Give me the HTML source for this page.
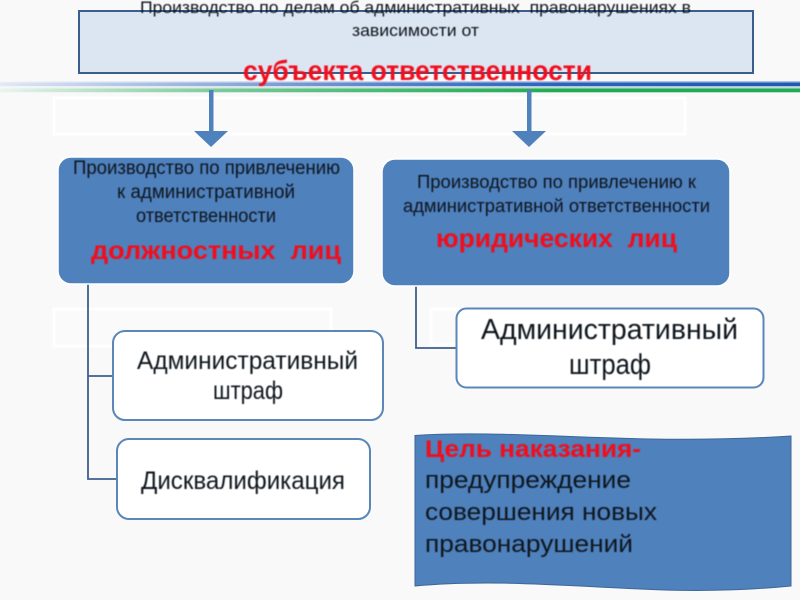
<!DOCTYPE html>
<html lang="ru">
<head>
<meta charset="utf-8">
<style>
html,body{margin:0;padding:0;background:#f9f9fa}
svg{display:block}
text{font-family:"Liberation Sans","DejaVu Sans",sans-serif;text-anchor:start}
.b{fill:#10151f}
.r{fill:#f10d1c;font-weight:bold}
</style>
</head>
<body>
<svg width="800" height="600" viewBox="0 0 800 600" xmlns="http://www.w3.org/2000/svg">
<defs>
<linearGradient id="gb" x1="0" x2="1" y1="0" y2="0">
<stop offset="0" stop-color="#2a62c0" stop-opacity="0.08"/>
<stop offset="0.3" stop-color="#2a62c0" stop-opacity="0.45"/>
<stop offset="0.7" stop-color="#2a62c0" stop-opacity="1"/>
<stop offset="1" stop-color="#2058b8"/>
</linearGradient>
<linearGradient id="gg" x1="0" x2="1" y1="0" y2="0">
<stop offset="0" stop-color="#22aa55" stop-opacity="0.05"/>
<stop offset="0.3" stop-color="#22aa55" stop-opacity="0.55"/>
<stop offset="0.7" stop-color="#22aa55" stop-opacity="1"/>
<stop offset="1" stop-color="#22aa55"/>
</linearGradient>
<filter id="s" x="-5%" y="-5%" width="110%" height="110%"><feGaussianBlur stdDeviation="0.4"/></filter>
</defs>
<rect width="800" height="600" fill="#f9f9fa"/>

<!-- bands -->
<rect x="0" y="81" width="800" height="6" fill="url(#gb)" opacity="0.35"/>
<rect x="0" y="82.5" width="800" height="3.5" fill="url(#gb)"/>
<rect x="0" y="87" width="800" height="6" fill="url(#gg)" opacity="0.3"/>
<rect x="0" y="88.5" width="800" height="3.5" fill="url(#gg)"/>

<!-- ghost boxes -->
<g filter="url(#s)">
<rect x="54" y="98" width="631" height="36" fill="#fafafa" stroke="#fff" stroke-width="3"/>
<rect x="54" y="309" width="277" height="37" fill="#fafafa" stroke="#fff" stroke-width="3"/>
<rect x="431" y="309" width="30" height="35" fill="#fafafa" stroke="#fff" stroke-width="3"/>
</g>

<!-- top box -->
<rect x="79" y="11" width="674" height="62" fill="#dce6f2" stroke="#3a5f8e" stroke-width="2"/>

<!-- arrows -->
<rect x="209" y="90" width="4.5" height="42" fill="#4f81bd"/>
<path d="M194 131 H228 L211 147 Z" fill="#4f81bd"/>
<rect x="527" y="90" width="4.5" height="42" fill="#4f81bd"/>
<path d="M512 131 H546 L529 147 Z" fill="#4f81bd"/>

<!-- connectors -->
<path d="M88 283 V479 H118 M88 376 H114" fill="none" stroke="#3d5f8c" stroke-width="1.8"/>
<path d="M416 286 V348 H457" fill="none" stroke="#3d5f8c" stroke-width="1.8"/>

<!-- blue boxes -->
<rect x="58" y="157" width="296" height="127" rx="13" fill="#4f81bd" stroke="#fff" stroke-width="1.5"/>
<rect x="382" y="159" width="348" height="127" rx="13" fill="#4f81bd" stroke="#fff" stroke-width="1.5"/>

<!-- white boxes -->
<rect x="113" y="331" width="270" height="89" rx="12" fill="#fff" stroke="#5b86b8" stroke-width="2"/>
<rect x="117" y="439" width="253" height="80" rx="12" fill="#fff" stroke="#5b86b8" stroke-width="2"/>
<rect x="456.5" y="308.5" width="307" height="79" rx="10" fill="#fff" stroke="#5b86b8" stroke-width="2"/>

<!-- wave -->
<path d="M415 435.500 C480 431,560 437,650 439 C710 440,760 438,791 436 V586 C750 590,700 592,640 589 C570 586,490 579,415 586 Z" fill="#4f81bd" stroke="#3d6796" stroke-width="1"/>

<g filter="url(#s)">
<text class="b" x="140" y="13" font-size="17" textLength="551" lengthAdjust="spacingAndGlyphs" xml:space="preserve">Производство по делам об административных  правонарушениях в</text>
<text class="b" x="352" y="36" font-size="17" textLength="127" lengthAdjust="spacingAndGlyphs">зависимости от</text>
<text class="r" x="243" y="80" font-size="28" textLength="349" lengthAdjust="spacingAndGlyphs">субъекта ответственности</text>

<text class="b" x="73" y="174" font-size="19" textLength="267" lengthAdjust="spacingAndGlyphs">Производство по привлечению</text>
<text class="b" x="117" y="198" font-size="19" textLength="178" lengthAdjust="spacingAndGlyphs">к административной</text>
<text class="b" x="136" y="222" font-size="19" textLength="140" lengthAdjust="spacingAndGlyphs">ответственности</text>
<text class="r" x="91" y="259" font-size="25" textLength="250" lengthAdjust="spacingAndGlyphs" xml:space="preserve">должностных  лиц</text>

<text class="b" x="417" y="188" font-size="18.500" textLength="279" lengthAdjust="spacingAndGlyphs">Производство по привлечению к</text>
<text class="b" x="403" y="212" font-size="18.500" textLength="307" lengthAdjust="spacingAndGlyphs">административной ответственности</text>
<text class="r" x="436" y="247" font-size="26" textLength="241" lengthAdjust="spacingAndGlyphs" xml:space="preserve">юридических  лиц</text>

<text class="b" x="137" y="369" font-size="25" textLength="221" lengthAdjust="spacingAndGlyphs">Административный</text>
<text class="b" x="213" y="399" font-size="25" textLength="70" lengthAdjust="spacingAndGlyphs">штраф</text>
<text class="b" x="141" y="489" font-size="25" textLength="204" lengthAdjust="spacingAndGlyphs">Дисквалификация</text>
<text class="b" x="481" y="339" font-size="29" textLength="257" lengthAdjust="spacingAndGlyphs">Административный</text>
<text class="b" x="569" y="374" font-size="29" textLength="82" lengthAdjust="spacingAndGlyphs">штраф</text>

<text class="r" x="425" y="457" font-size="24" textLength="216" lengthAdjust="spacingAndGlyphs">Цель наказания-</text>
<text class="b" x="425" y="488" font-size="24" textLength="206" lengthAdjust="spacingAndGlyphs">предупреждение</text>
<text class="b" x="425" y="520" font-size="24" textLength="232" lengthAdjust="spacingAndGlyphs">совершения новых</text>
<text class="b" x="425" y="552" font-size="24" textLength="208" lengthAdjust="spacingAndGlyphs">правонарушений</text>
</g>
</svg>
</body>
</html>
